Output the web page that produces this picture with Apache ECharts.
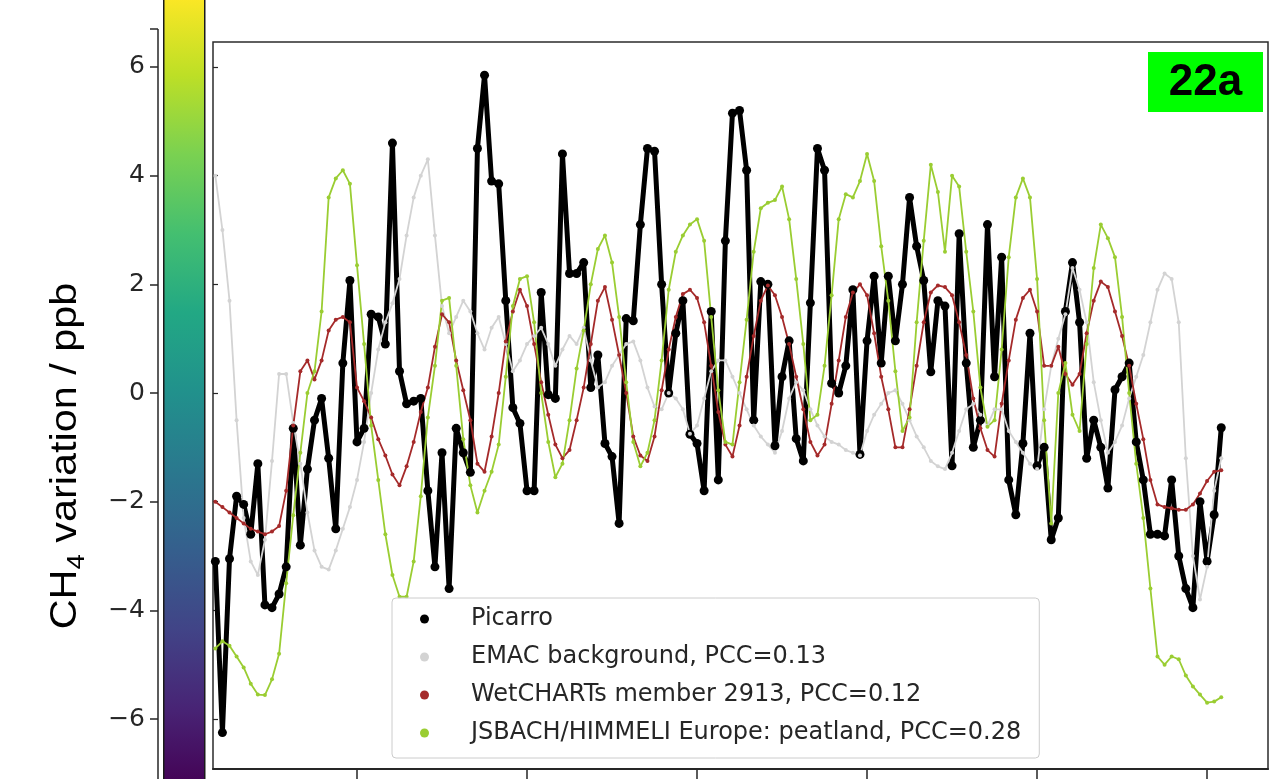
<!DOCTYPE html>
<html>
<head>
<meta charset="utf-8">
<title>CH4 variation</title>
<script src="https://cdn.jsdelivr.net/npm/echarts@6.0.0/dist/echarts.min.js"></script>
<style>
  html, body { margin: 0; padding: 0; background: #fff; }
  #chart { width: 1276px; height: 779px; }
</style>
</head>
<body>
<div id="chart"></div>
<script>
// hourly samples, first one at hour 4
const firstHour = 4
const xTicks = [24, 48, 72, 96, 120, 144]
const yTicks = [-6, -4, -2, 0, 2, 4, 6]

const picarro = [
  -3.1, -6.25, -3.05, -1.9, -2.05, -2.6, -1.3, -3.9, -3.95, -3.7,
  -3.2, -0.65, -2.8, -1.4, -0.5, -0.1, -1.2, -2.5, 0.55, 2.07,
  -0.9, -0.65, 1.45, 1.4, 0.9, 4.6, 0.4, -0.2, -0.15, -0.1,
  -1.8, -3.2, -1.1, -3.6, -0.65, -1.1, -1.46, 4.5, 5.85, 3.9,
  3.85, 1.7, -0.27, -0.56, -1.8, -1.8, 1.85, -0.03, -0.1, 4.4,
  2.2, 2.2, 2.4, 0.1, 0.7, -0.93, -1.17, -2.4, 1.37, 1.33,
  3.1, 4.5, 4.45, 2.0, 0.0, 1.1, 1.7, -0.76, -0.93, -1.8,
  1.5, -1.6, 2.8, 5.15, 5.2, 4.1, -0.5, 2.05, 2.0, -0.97,
  0.3, 0.96, -0.84, -1.25, 1.66, 4.5, 4.1, 0.18, 0.0, 0.5,
  1.9, -1.13, 0.96, 2.15, 0.55, 2.15, 0.96, 2.0, 3.6, 2.7,
  2.07, 0.39, 1.7, 1.6, -1.34, 2.93, 0.55, -1.0, -0.5, 3.1,
  0.3, 2.5, -1.6, -2.24, -0.93, 1.1, -1.34, -1.0, -2.7, -2.3,
  1.5, 2.4, 1.3, -1.2, -0.5, -1.0, -1.75, 0.06, 0.3, 0.55,
  -0.9, -1.6, -2.6, -2.6, -2.63, -1.6, -3.0, -3.6, -3.95, -2.0,
  -3.1, -2.24, -0.64
]

const emac = [
  4.0, 3.0, 1.7, -0.5, -2.3, -3.1, -3.35, -2.7, -1.25, 0.35,
  0.35, -0.55, -1.3, -2.2, -2.9, -3.2, -3.25, -2.9, -2.5, -2.1,
  -1.6, -0.9, 0.0, 0.8, 1.3, 1.65, 2.1, 2.9, 3.6, 4.0,
  4.3, 2.9, 1.6, 1.1, 1.4, 1.7, 1.5, 1.1, 0.8, 1.2,
  1.4, 0.9, 0.4, 0.6, 0.9, 1.05, 1.2, 0.9, 0.5, 0.8,
  1.05, 0.9, 1.2, 0.6, 0.1, 0.2, 0.5, 0.7, 0.9, 0.95,
  0.6, 0.1, -0.25, -0.3, 0.0, -0.1, -0.3, -0.75, -0.6, -0.1,
  0.4, 0.6, 0.6, 0.3, 0.0, -0.3, -0.6, -0.8, -0.95, -1.1,
  -0.7, -0.1, 0.2, 0.05, -0.3, -0.6, -0.8, -0.9, -0.95, -1.05,
  -1.1, -1.15, -0.7, -0.4, -0.2, 0.0, 0.05, -0.2, -0.5, -0.8,
  -1.0, -1.25, -1.35, -1.4, -1.1, -0.7, -0.3, -0.2, -0.4, -0.6,
  -0.3, -0.3, -0.7, -0.9, -1.1, -1.3, -1.4, -0.3, 0.5, 1.0,
  1.45, 2.3, 1.9, 1.3, 0.2, -0.5, -1.1, -0.9, -0.6, -0.1,
  0.3, 0.7, 1.3, 1.9, 2.2, 2.1, 1.3, -1.2, -3.0, -3.8,
  -3.2, -1.8, -1.2
]

const wetcharts = [
  -2.0, -2.1, -2.2, -2.3, -2.4, -2.5, -2.55, -2.6, -2.55, -2.45,
  -1.8, -0.6, 0.4, 0.6, 0.25, 0.6, 1.15, 1.35, 1.4, 1.3,
  0.1, -0.15, -0.45, -0.85, -1.15, -1.5, -1.7, -1.35, -0.9, -0.35,
  0.1, 0.85, 1.45, 1.3, 0.6, 0.05, -0.5, -1.3, -1.45, -0.8,
  0.0, 0.95, 1.5, 1.9, 1.6, 0.9, 0.2, -0.4, -0.95, -1.2,
  -1.05, -0.5, 0.1, 0.9, 1.7, 1.95, 1.35, 0.7, 0.0, -0.8,
  -1.15, -1.25, -0.8, 0.05, 0.8, 1.4, 1.82, 1.9, 1.75, 1.3,
  0.5, -0.35, -0.95, -1.17, -0.6, 0.3, 1.05, 1.7, 1.98, 1.8,
  1.4, 0.9, 0.3, -0.3, -0.9, -1.15, -0.95, -0.2, 0.6, 1.4,
  1.85, 2.0, 1.8, 1.1, 0.3, -0.3, -1.0, -1.0, -0.3, 0.5,
  1.3, 1.85, 1.98, 1.95, 1.8, 1.3, 0.7, -0.1, -0.65, -1.05,
  -1.17, -0.2, 0.6, 1.35, 1.75, 1.9, 1.5, 0.5, 0.5, 0.85,
  0.35, 0.15, 0.35, 1.1, 1.7, 2.05, 1.95, 1.5, 1.05, 0.5,
  -0.2, -0.85, -1.6, -2.05, -2.1, -2.12, -2.15, -2.15, -2.05, -1.85,
  -1.62, -1.45, -1.42
]

const jsbach = [
  -4.7, -4.57, -4.65, -4.85, -5.05, -5.35, -5.55, -5.56, -5.27, -4.8,
  -3.5, -2.25, -1.1, 0.0, 0.4, 1.5, 3.6, 3.95, 4.1, 3.85,
  2.35, 0.9, -0.6, -1.6, -2.6, -3.35, -3.75, -3.75, -3.1, -1.9,
  -0.45, 0.5, 1.7, 1.75, 0.5, -0.85, -1.7, -2.2, -1.8, -1.45,
  -0.95, 0.3, 1.6, 2.1, 2.15, 1.3, 0.0, -0.9, -1.55, -1.3,
  -0.5, 0.45, 1.15, 2.0, 2.65, 2.9, 2.4, 1.4, 0.2, -0.9,
  -1.35, -1.1, -0.5, 0.6, 1.9, 2.6, 2.9, 3.1, 3.2, 2.8,
  1.4, 0.05, -0.9, -0.95, 0.2, 1.35, 2.6, 3.4, 3.5, 3.55,
  3.8, 3.2, 2.1, 0.9, -0.5, -0.4, 0.5, 1.8, 3.2, 3.66,
  3.6, 3.9, 4.4, 3.9, 2.7, 1.7, 0.4, -0.7, -0.45, 1.3,
  2.8, 4.2, 3.7, 2.6, 4.0, 3.8, 2.6, 1.5, 0.1, -0.62,
  -0.5, 0.8, 2.5, 3.6, 3.95, 3.6, 2.1, -0.5, -2.4, 0.0,
  0.55, -0.4, -0.7, 0.9, 2.3, 3.1, 2.85, 2.5, 1.4, 0.0,
  -1.3, -2.3, -3.6, -4.85, -5.0, -4.85, -4.9, -5.2, -5.4, -5.55,
  -5.7, -5.68, -5.6
]

const names = [
  'Picarro',
  'EMAC background, PCC=0.13',
  'WetCHARTs member 2913, PCC=0.12',
  'JSBACH/HIMMELI Europe: peatland, PCC=0.28'
]

const toPoints = (vals) => vals.map((v, i) => [firstHour + i, v])
const minusSign = (v) => (v < 0 ? '\u2212' + Math.abs(v) : String(v))

// viridis, top = high end
const viridis = ['#fde725', '#bddf26', '#7ad151', '#44bf70', '#22a884', '#21918c',
  '#2a788e', '#355f8d', '#414487', '#482475', '#440154']

const chart = echarts.init(document.getElementById('chart'))

const yRange = { min: -6.92, max: 6.46 }
const axisColor = '#262626'

function modelSeries(name, vals, color) {
  return {
    name,
    type: 'line',
    data: toPoints(vals),
    symbol: 'circle',
    symbolSize: 4,
    showAllSymbol: true,
    lineStyle: { color, width: 1.8 },
    itemStyle: { color },
    emphasis: { disabled: true }
  }
}

chart.setOption({
  animation: false,
  backgroundColor: '#ffffff',
  grid: {
    left: 213, right: 8, top: 42, bottom: 10,
    show: true, borderColor: '#2b2b2b', borderWidth: 1.5
  },
  xAxis: {
    type: 'value', min: 3.67, max: 152.6,
    axisLine: { show: true, onZero: false, lineStyle: { color: axisColor, width: 2 } },
    axisTick: { show: true, customValues: xTicks, length: 10, lineStyle: { color: axisColor, width: 1.5 } },
    axisLabel: { show: false },
    splitLine: { show: false }
  },
  yAxis: [
    {
      type: 'value', ...yRange, position: 'left', offset: 55,
      axisLine: { show: false },
      axisTick: { show: true, customValues: yTicks, length: 8, lineStyle: { color: axisColor, width: 1.5 } },
      axisLabel: {
        customValues: yTicks, formatter: minusSign, margin: 13,
        fontSize: 25, fontFamily: 'DejaVu Sans', color: axisColor
      },
      splitLine: { show: false }
    },
    {
      type: 'value', ...yRange, position: 'left',
      axisLine: { show: false },
      axisTick: { show: true, inside: true, customValues: yTicks, length: 5, lineStyle: { color: axisColor, width: 1.2 } },
      axisLabel: { show: false },
      splitLine: { show: false }
    }
  ],
  legend: {
    orient: 'vertical',
    left: 392, top: 598,
    data: names,
    icon: 'circle',
    itemWidth: 9, itemHeight: 9,
    itemGap: 14,
    padding: [9, 18, 13, 28],
    backgroundColor: 'rgba(255,255,255,0.8)',
    borderColor: '#cccccc', borderWidth: 1, borderRadius: 4,
    selectedMode: false,
    textStyle: {
      fontFamily: 'DejaVu Sans', fontSize: 24, lineHeight: 24,
      color: axisColor, padding: [0, 0, 0, 37]
    }
  },
  graphic: [
    {
      type: 'rect', left: 163, top: -4, z: 10,
      shape: { width: 41, height: 790 },
      style: {
        fill: new echarts.graphic.LinearGradient(0, 0, 0, 1,
          viridis.map((c, i) => ({ offset: i / (viridis.length - 1), color: c }))),
        stroke: '#1a1a1a', lineWidth: 1.5
      }
    },
    {
      type: 'line', z: 10,
      shape: { x1: 158, y1: 29, x2: 158, y2: 790 },
      style: { stroke: axisColor, lineWidth: 1.5 }
    },
    {
      type: 'line', z: 10,
      shape: { x1: 150, y1: 29, x2: 158, y2: 29 },
      style: { stroke: axisColor, lineWidth: 1.5 }
    },
    {
      type: 'text', z: 10,
      x: 66, y: 456, rotation: Math.PI / 2, scaleX: 1.15,
      style: {
        text: '{a|CH}{b|4}{a| variation / ppb}',
        align: 'center', verticalAlign: 'middle',
        fill: '#000',
        rich: {
          a: { fontFamily: 'Liberation Sans', fontSize: 36, lineHeight: 46, fill: '#000' },
          b: { fontFamily: 'Liberation Sans', fontSize: 24, lineHeight: 24, verticalAlign: 'bottom', fill: '#000' }
        }
      }
    },
    {
      type: 'group', left: 1148, top: 52, z: 20,
      children: [
        { type: 'rect', shape: { x: 0, y: 0, width: 115, height: 60 }, style: { fill: '#00ff00' } },
        {
          type: 'text', x: 57.5, y: 31,
          style: {
            text: '22a', align: 'center', verticalAlign: 'middle',
            fontFamily: 'Liberation Sans', fontWeight: 'bold', fontSize: 44, fill: '#000'
          }
        }
      ]
    }
  ],
  series: [
    {
      name: names[0],
      type: 'line',
      data: toPoints(picarro),
      symbol: 'circle',
      symbolSize: 9,
      showAllSymbol: true,
      lineStyle: { color: '#000', width: 5 },
      itemStyle: { color: '#000' },
      emphasis: { disabled: true }
    },
    modelSeries(names[1], emac, '#d3d3d3'),
    modelSeries(names[2], wetcharts, '#a52a2a'),
    modelSeries(names[3], jsbach, '#9acd32')
  ]
})
</script>
</body>
</html>
